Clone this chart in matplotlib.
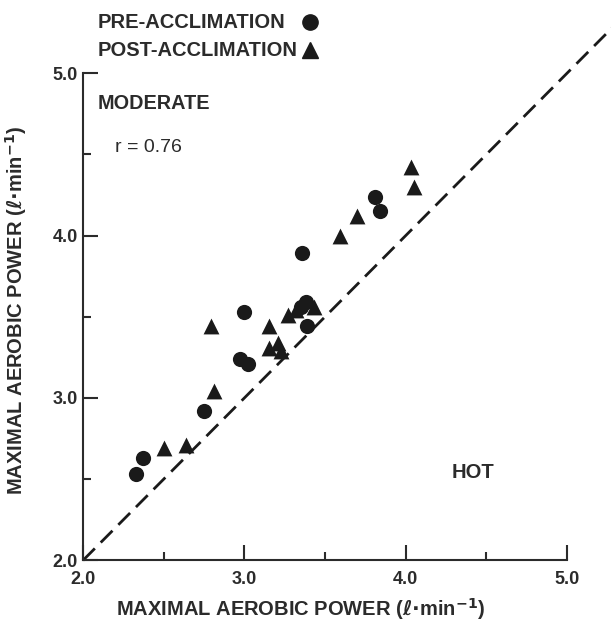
import matplotlib
matplotlib.use('Agg')
import matplotlib.pyplot as plt
from matplotlib.ticker import MultipleLocator

plt.rcParams['font.family'] = ['Liberation Sans', 'DejaVu Sans']
plt.rcParams['font.weight'] = 'bold'

# hot (x) vs moderate (y) maximal aerobic power, l/min
pre_hot = [2.33, 2.37, 2.75, 2.97, 3.02, 3.00, 3.36, 3.39, 3.35, 3.38, 3.81, 3.84]
pre_mod = [2.53, 2.63, 2.92, 3.24, 3.21, 3.53, 3.89, 3.44, 3.56, 3.59, 4.24, 4.15]
post_hot = [2.50, 2.64, 2.81, 2.79, 3.15, 3.15, 3.21, 3.23, 3.27, 3.32, 3.43, 3.59, 3.70, 4.03, 4.05]
post_mod = [2.69, 2.71, 3.04, 3.44, 3.44, 3.31, 3.34, 3.29, 3.51, 3.54, 3.56, 4.00, 4.12, 4.42, 4.30]
identity = [2.0, 5.45]
legend_labels = ['PRE-ACCLIMATION', 'POST-ACCLIMATION']

ink = '#1a1a1a'
txt = '#2b2b2b'

fig = plt.figure(figsize=(6.11, 6.26), dpi=100)
ax = fig.add_axes([0.136, 0.105, 0.792, 0.778])

ax.plot(identity, identity, color=ink, lw=2, dashes=(6, 3), clip_on=False)
ax.scatter(pre_hot, pre_mod, s=120, marker='o', color=ink, lw=0, zorder=3, clip_on=False)
ax.scatter(post_hot, post_mod, s=130, marker='^', color=ink, lw=0, zorder=3, clip_on=False)

ax.set_xlim(2, 5)
ax.set_ylim(2, 5)
for s in ['top', 'right']:
    ax.spines[s].set_visible(False)
for s in ['left', 'bottom']:
    ax.spines[s].set_linewidth(1.5)
    ax.spines[s].set_color(txt)

ax.xaxis.set_major_locator(MultipleLocator(1))
ax.yaxis.set_major_locator(MultipleLocator(1))
ax.xaxis.set_minor_locator(MultipleLocator(0.5))
ax.yaxis.set_minor_locator(MultipleLocator(0.5))
ax.xaxis.set_major_formatter(lambda v, p: f'{v:.1f}')
ax.yaxis.set_major_formatter(lambda v, p: f'{v:.1f}')
ax.tick_params(which='major', direction='in', length=11, width=1.5, color=txt,
               labelsize=13, labelcolor=txt)
ax.tick_params(which='minor', direction='in', length=6, width=1.5, color=txt)
ax.tick_params(axis='y', pad=4)
ax.tick_params(axis='x', pad=8)

label = 'MAXIMAL AEROBIC POWER ($\\ell$$\\bullet$min$^{-1}$)'
ax.set_xlabel(label, fontsize=14.5, color=txt, fontweight='bold')
ax.set_ylabel(label, fontsize=14.5, color=txt, fontweight='bold')
ax.xaxis.set_label_coords(0.45, -0.074)
ax.yaxis.set_label_coords(-0.112, 0.513)

ax.text(0.029, 0.938, 'MODERATE', transform=ax.transAxes, fontsize=14.3, color=txt,
        fontweight='bold', va='center')
ax.text(0.066, 0.848, 'r = 0.76', transform=ax.transAxes, fontsize=14, color=txt,
        va='center', fontweight='normal')
ax.text(0.762, 0.181, 'HOT', transform=ax.transAxes, fontsize=14.5, color=txt,
        fontweight='bold', va='center')

# legend block above the axes: labels left aligned, keys in one column
for i, (lab, mk) in enumerate(zip(legend_labels, ['o', '^'])):
    yy = 1.105 - i * 0.058
    ax.text(0.029, yy, lab, transform=ax.transAxes, fontsize=14.5, color=txt,
            fontweight='bold', va='center')
    ax.plot([0.469], [yy], marker=mk, ms=11, color=ink, ls='',
            transform=ax.transAxes, clip_on=False)

fig.savefig('out.png', dpi=100)
